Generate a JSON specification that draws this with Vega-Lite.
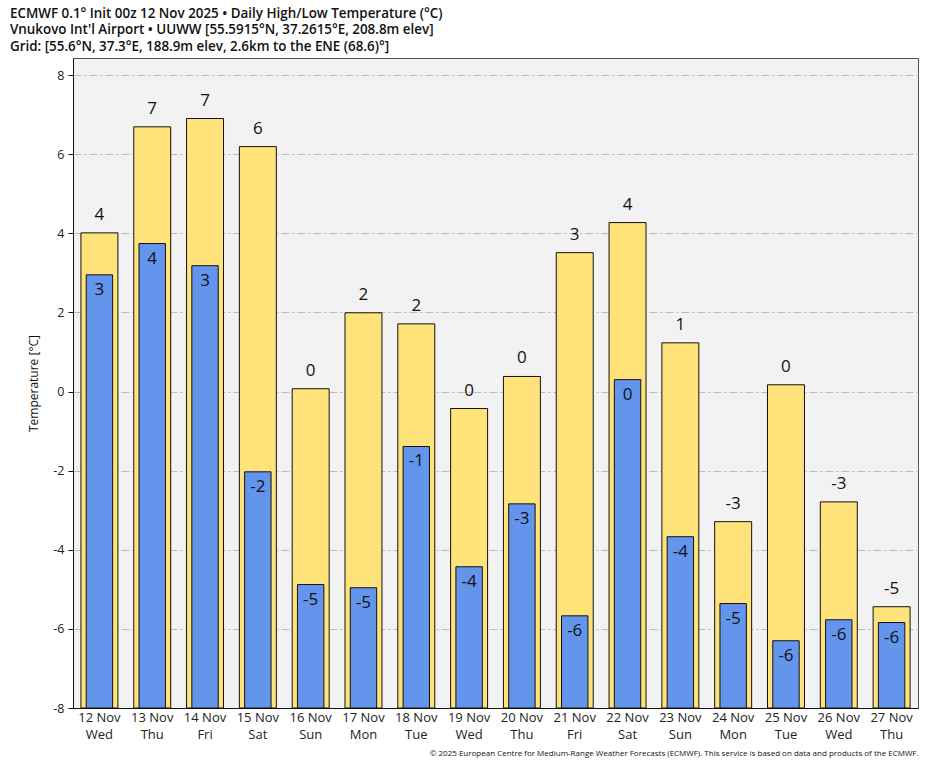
{
  "$schema": "https://vega.github.io/schema/vega-lite/v6.json",
  "width": 845,
  "height": 650,
  "autosize": {"type": "none"},
  "padding": {"left": 73, "top": 58, "right": 17, "bottom": 60},
  "background": "white",
  "title": {
    "text": ["ECMWF 0.1° Init 00z 12 Nov 2025 • Daily High/Low Temperature (°C)", "Vnukovo Int'l Airport • UUWW [55.5915°N, 37.2615°E, 208.8m elev]", "Grid: [55.6°N, 37.3°E, 188.9m elev, 2.6km to the ENE (68.6)°]"],
    "anchor": "start",
    "frame": "group",
    "dx": -63,
    "offset": 5,
    "font": "Open Sans",
    "fontSize": 13.4,
    "fontWeight": 600,
    "lineHeight": 16.5,
    "color": "#111"
  },
  "data": {
    "values": [
      {"d": "12 Nov|Wed", "hi": 4.01, "lo": 2.95, "hiL": "4", "loL": "3"},
      {"d": "13 Nov|Thu", "hi": 6.69, "lo": 3.74, "hiL": "7", "loL": "4"},
      {"d": "14 Nov|Fri", "hi": 6.9, "lo": 3.18, "hiL": "7", "loL": "3"},
      {"d": "15 Nov|Sat", "hi": 6.19, "lo": -2.03, "hiL": "6", "loL": "-2"},
      {"d": "16 Nov|Sun", "hi": 0.07, "lo": -4.88, "hiL": "0", "loL": "-5"},
      {"d": "17 Nov|Mon", "hi": 1.99, "lo": -4.96, "hiL": "2", "loL": "-5"},
      {"d": "18 Nov|Tue", "hi": 1.71, "lo": -1.39, "hiL": "2", "loL": "-1"},
      {"d": "19 Nov|Wed", "hi": -0.43, "lo": -4.43, "hiL": "0", "loL": "-4"},
      {"d": "20 Nov|Thu", "hi": 0.38, "lo": -2.84, "hiL": "0", "loL": "-3"},
      {"d": "21 Nov|Fri", "hi": 3.51, "lo": -5.67, "hiL": "3", "loL": "-6"},
      {"d": "22 Nov|Sat", "hi": 4.27, "lo": 0.3, "hiL": "4", "loL": "0"},
      {"d": "23 Nov|Sun", "hi": 1.23, "lo": -3.67, "hiL": "1", "loL": "-4"},
      {"d": "24 Nov|Mon", "hi": -3.29, "lo": -5.36, "hiL": "-3", "loL": "-5"},
      {"d": "25 Nov|Tue", "hi": 0.17, "lo": -6.3, "hiL": "0", "loL": "-6"},
      {"d": "26 Nov|Wed", "hi": -2.79, "lo": -5.77, "hiL": "-3", "loL": "-6"},
      {"d": "27 Nov|Thu", "hi": -5.44, "lo": -5.84, "hiL": "-5", "loL": "-6"}
    ]
  },
  "encoding": {
    "x": {
      "field": "d",
      "type": "nominal",
      "sort": null,
      "scale": {"paddingInner": 0, "paddingOuter": 0},
      "axis": {
        "title": "© 2025 European Centre for Medium-Range Weather Forecasts (ECMWF). This service is based on data and products of the ECMWF.",
        "titleAnchor": "end",
        "titleAlign": "right",
        "titleFontSize": 8,
        "titleFontWeight": "normal",
        "titleFont": "Open Sans",
        "titleColor": "#111",
        "titlePadding": 8,
        "labelExpr": "split(datum.value, '|')",
        "labelAngle": 0,
        "labelFont": "Open Sans",
        "labelFontSize": 13,
        "labelColor": "#222",
        "labelLineHeight": 17,
        "labelPadding": 3,
        "ticks": false,
        "domainColor": "#111",
        "grid": false
      }
    }
  },
  "layer": [
    {
      "mark": {"type": "bar", "width": {"band": 0.7}, "color": "#ffe37a", "stroke": "#111", "strokeWidth": 1},
      "encoding": {
        "y": {
          "field": "hi",
          "type": "quantitative",
          "scale": {"domain": [-8, 8.43], "nice": false, "zero": false},
          "axis": {
            "title": "Temperature [°C]",
            "titleFont": "Open Sans",
            "titleFontSize": 12,
            "titleFontWeight": "normal",
            "titleColor": "#111",
            "titlePadding": 12,
            "values": [-8, -6, -4, -2, 0, 2, 4, 6, 8],
            "labelExpr": "'' + datum.value",
            "labelFont": "Open Sans",
            "labelFontSize": 12.5,
            "labelColor": "#222",
            "labelPadding": 4,
            "tickSize": 5,
            "tickColor": "#111",
            "domainColor": "#111",
            "grid": true,
            "gridColor": "#bbbbbb",
            "gridDash": [8, 3, 2, 3],
            "gridWidth": 1
          }
        },
        "y2": {"datum": -8}
      }
    },
    {
      "mark": {"type": "bar", "width": {"band": 0.5}, "color": "#6495ed", "stroke": "#111", "strokeWidth": 1},
      "encoding": {
        "y": {"field": "lo", "type": "quantitative"},
        "y2": {"datum": -8}
      }
    },
    {
      "mark": {"type": "text", "baseline": "bottom", "dy": -9, "font": "Open Sans", "fontSize": 17, "color": "#111"},
      "encoding": {
        "y": {"field": "hi", "type": "quantitative"},
        "text": {"field": "hiL"}
      }
    },
    {
      "mark": {"type": "text", "baseline": "top", "dy": 7, "font": "Open Sans", "fontSize": 17, "color": "#111"},
      "encoding": {
        "y": {"field": "lo", "type": "quantitative"},
        "text": {"field": "loL"}
      }
    }
  ],
  "config": {
    "view": {"fill": "#f2f2f2", "stroke": "#555"},
    "axis": {"domainWidth": 1}
  }
}
